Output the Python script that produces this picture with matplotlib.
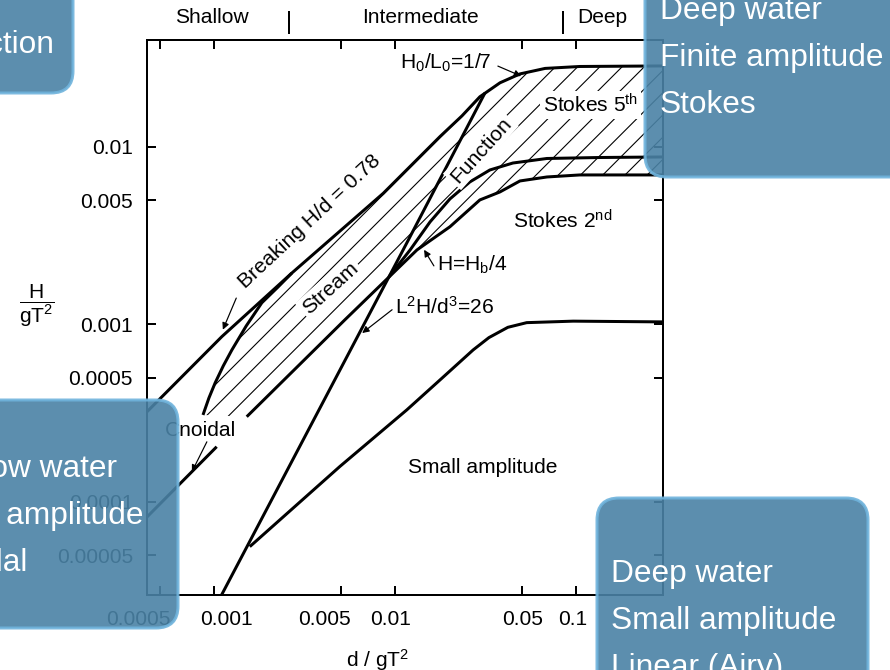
import matplotlib.pyplot as plt
from matplotlib.patches import FancyBboxPatch
from matplotlib.transforms import IdentityTransform, ScaledTranslation

DPI = 200
PX = 72 / DPI          # one output pixel, in points
W, H = 890, 670

# limit curves: (d/gT^2, H/gT^2)
breaking_d = [4.24e-4, 1.10e-3, 2.68e-3, 8.59e-3, 1.77e-2, 2.34e-2, 2.94e-2, 3.80e-2, 4.90e-2,
              6.75e-2, 0.105, 0.303]
breaking_h = [3.21e-4, 8.51e-4, 1.94e-3, 5.46e-3, 1.14e-2, 1.49e-2, 1.91e-2, 2.29e-2, 2.57e-2,
              2.76e-2, 2.83e-2, 2.85e-2]

quarter_d = [4.24e-4, 1.03e-3, 1.51e-3, 5.28e-3, 1.32e-2, 2.01e-2, 2.94e-2, 3.80e-2, 4.90e-2,
             6.91e-2, 0.105, 0.303]
quarter_h = [8.20e-5, 2.04e-4, 3.01e-4, 1.06e-3, 2.62e-3, 3.54e-3, 5.01e-3, 5.56e-3, 6.41e-3,
             6.75e-3, 6.93e-3, 6.93e-3]

stokes5_d = [9.24e-3, 1.21e-2, 1.56e-2, 2.01e-2, 2.59e-2, 3.34e-2, 4.48e-2, 6.91e-2, 0.136, 0.303]
stokes5_h = [1.85e-3, 2.62e-3, 3.77e-3, 5.08e-3, 6.33e-3, 7.39e-3, 8.09e-3, 8.58e-3, 8.69e-3, 8.75e-3]

ursell_d = [1.09e-3, 3.24e-3, 1.16e-2, 3.14e-2]
ursell_h = [2.95e-5, 2.43e-4, 2.87e-3, 2.01e-2]

linear_d = [1.57e-3, 4.95e-3, 1.16e-2, 1.77e-2, 2.70e-2, 3.30e-2, 4.20e-2, 5.34e-2, 9.66e-2, 0.303]
linear_h = [5.58e-5, 1.58e-4, 3.29e-4, 4.85e-4, 7.16e-4, 8.40e-4, 9.60e-4, 1.02e-3, 1.04e-3, 1.03e-3]

stream_d = [8.65e-4, 9.33e-4, 1.01e-3, 1.12e-3, 1.25e-3, 1.50e-3, 1.83e-3, 2.25e-3, 2.68e-3]
stream_h = [3.08e-4, 3.84e-4, 4.67e-4, 5.82e-4, 7.16e-4, 9.77e-4, 1.32e-3, 1.62e-3, 1.94e-3]

x_ticks = [0.0005, 0.001, 0.005, 0.01, 0.05, 0.1]
x_labels = ['0.0005', '0.001', '0.005', '0.01', '0.05', '0.1']
x_label_shift = [-22, 12, -16, -5, 1, -3]     # hand placed labels in the original, pixels
y_ticks = [0.00005, 0.0001, 0.0005, 0.001, 0.005, 0.01]
y_labels = ['0.00005', '0.0001', '0.0005', '0.001', '0.005', '0.01']

depth_bounds = [0.0026, 0.085]
depth_names = ['Shallow', 'Intermediate', 'Deep']

plt.rcParams['font.family'] = ['Liberation Sans', 'DejaVu Sans']
plt.rcParams['mathtext.default'] = 'regular'
plt.rcParams['hatch.linewidth'] = 1.1 * PX

FS = 21 * PX
LW = 3 * PX

fig = plt.figure(figsize=(4.45, 3.35), dpi=DPI)
ax = fig.add_axes([147 / W, 75 / H, 516 / W, 555 / H])
ax.set_xscale('log')
ax.set_yscale('log')
ax.set_xlim(4.24e-4, 0.303)
ax.set_ylim(2.98e-5, 0.0399)

# stream function region (hatched)
poly_d = stream_d + breaking_d[3:] + quarter_d[2:][::-1]
poly_h = stream_h + breaking_h[3:] + quarter_h[2:][::-1]
ax.fill(poly_d, poly_h, facecolor='none', edgecolor='black', hatch='///', linewidth=0, zorder=1)

kw = dict(color='black', lw=LW, solid_capstyle='butt', solid_joinstyle='round', zorder=3)
ax.plot(breaking_d, breaking_h, **kw)
ax.plot(quarter_d[:2], quarter_h[:2], **kw)
ax.plot(quarter_d[2:], quarter_h[2:], **kw)
ax.plot(stokes5_d, stokes5_h, **kw)
ax.plot(ursell_d, ursell_h, **kw)
ax.plot(linear_d, linear_h, **kw)
ax.plot(stream_d, stream_h, **kw)

ax.set_xticks(x_ticks)
ax.set_xticklabels(x_labels)
ax.set_yticks(y_ticks)
ax.set_yticklabels(y_labels)
ax.minorticks_off()
ax.tick_params(direction='in', top=True, right=True, length=9 * PX, width=2 * PX,
               labelsize=FS, pad=5.5)
ax.tick_params(axis='y', pad=5)
for lab, dx in zip(ax.get_xticklabels(), x_label_shift):
    lab.set_transform(lab.get_transform() + ScaledTranslation(dx / DPI, 0, fig.dpi_scale_trans))
for s in ax.spines.values():
    s.set_linewidth(2 * PX)

ax.set_xlabel(r'd / gT$^2$', fontsize=FS, va='top')
ax.xaxis.set_label_coords(0.446, -0.094)
ax.set_ylabel(r'$\dfrac{H}{gT^2}$', fontsize=FS, rotation=0, va='center', ha='center')
ax.yaxis.set_label_coords(-0.213, 0.52)

# depth zones above the frame
for xb in depth_bounds:
    ax.axvline(xb, ymin=1.0126, ymax=1.0505, color='black', lw=2 * PX, clip_on=False)
for name, xa in zip(depth_names, [0.126, 0.529, 0.882]):
    ax.text(xa, 1.0414, name, transform=ax.transAxes, fontsize=FS, ha='center', va='center')

# region labels
t = dict(transform=ax.transAxes, fontsize=FS, zorder=4)
white = dict(facecolor='white', edgecolor='none', pad=1)
ax.text(0.651, 0.229, 'Small amplitude', ha='center', va='center', **t)
ax.text(0.103, 0.296, 'Cnoidal', ha='center', va='center', **t)
ax.text(0.709, 0.661, r'Stokes 2$^{nd}$', ha='left', va='baseline', **t)
ax.text(0.767, 0.869, r'Stokes 5$^{th}$', ha='left', va='baseline', bbox=white, **t)
ax.text(0.316, 0.672, 'Breaking H/d = 0.78', rotation=43, rotation_mode='anchor',
        ha='center', va='center', **t)
ax.text(0.355, 0.553, 'Stream', rotation=42, rotation_mode='anchor',
        ha='center', va='center', bbox=white, **t)
ax.text(0.647, 0.802, 'Function', rotation=48, rotation_mode='anchor',
        ha='center', va='center', bbox=white, **t)
ax.text(0.490, 0.959, r'H$_0$/L$_0$=1/7', ha='left', va='center', **t)
ax.text(0.562, 0.595, r'H=H$_b$/4', ha='left', va='center', **t)
ax.text(0.481, 0.519, r'L$^2$H/d$^3$=26', ha='left', va='center', **t)

arrow = dict(arrowstyle='-|>', color='black', lw=1.2 * PX, mutation_scale=5, shrinkA=0, shrinkB=0)
for start, end in [((0.680, 0.953), (0.725, 0.935)),
                   ((0.556, 0.593), (0.537, 0.622)),
                   ((0.475, 0.514), (0.417, 0.472)),
                   ((0.173, 0.535), (0.147, 0.478)),
                   ((0.116, 0.276), (0.087, 0.222))]:
    ax.annotate('', xy=end, xytext=start, xycoords='axes fraction',
                textcoords='axes fraction', arrowprops=arrow, zorder=4)


# slide call-out boxes laid over the figure (pixel coordinates from top left)
def overlay_box(x0, y0, x1, y1, lines, tx, ty, ha='left'):
    box = FancyBboxPatch((x0, H - y1), x1 - x0, y1 - y0,
                         boxstyle='round,pad=0,rounding_size=22',
                         transform=IdentityTransform(), facecolor='#4a82a5',
                         edgecolor='#6fb3dc', linewidth=3 * PX, alpha=0.9, zorder=5)
    fig.add_artist(box)
    for i, line in enumerate(lines):
        fig.text(tx, H - (ty + i * 47), line, transform=IdentityTransform(),
                 color='white', fontsize=31.6 * PX, ha=ha, va='baseline', zorder=6)


overlay_box(-30, -30, 73, 93, ['Stream function'], 54, 53, ha='right')
overlay_box(645, -30, 930, 177, ['Deep water', 'Finite amplitude', 'Stokes'], 660, 19)
overlay_box(-30, 400, 178, 628, ['Shallow water', 'Finite amplitude', 'Cnoidal'], -80, 477)
overlay_box(597, 498, 868, 720, ['Deep water', 'Small amplitude', 'Linear (Airy)'], 611, 582)

fig.savefig('out.png', dpi=DPI)
